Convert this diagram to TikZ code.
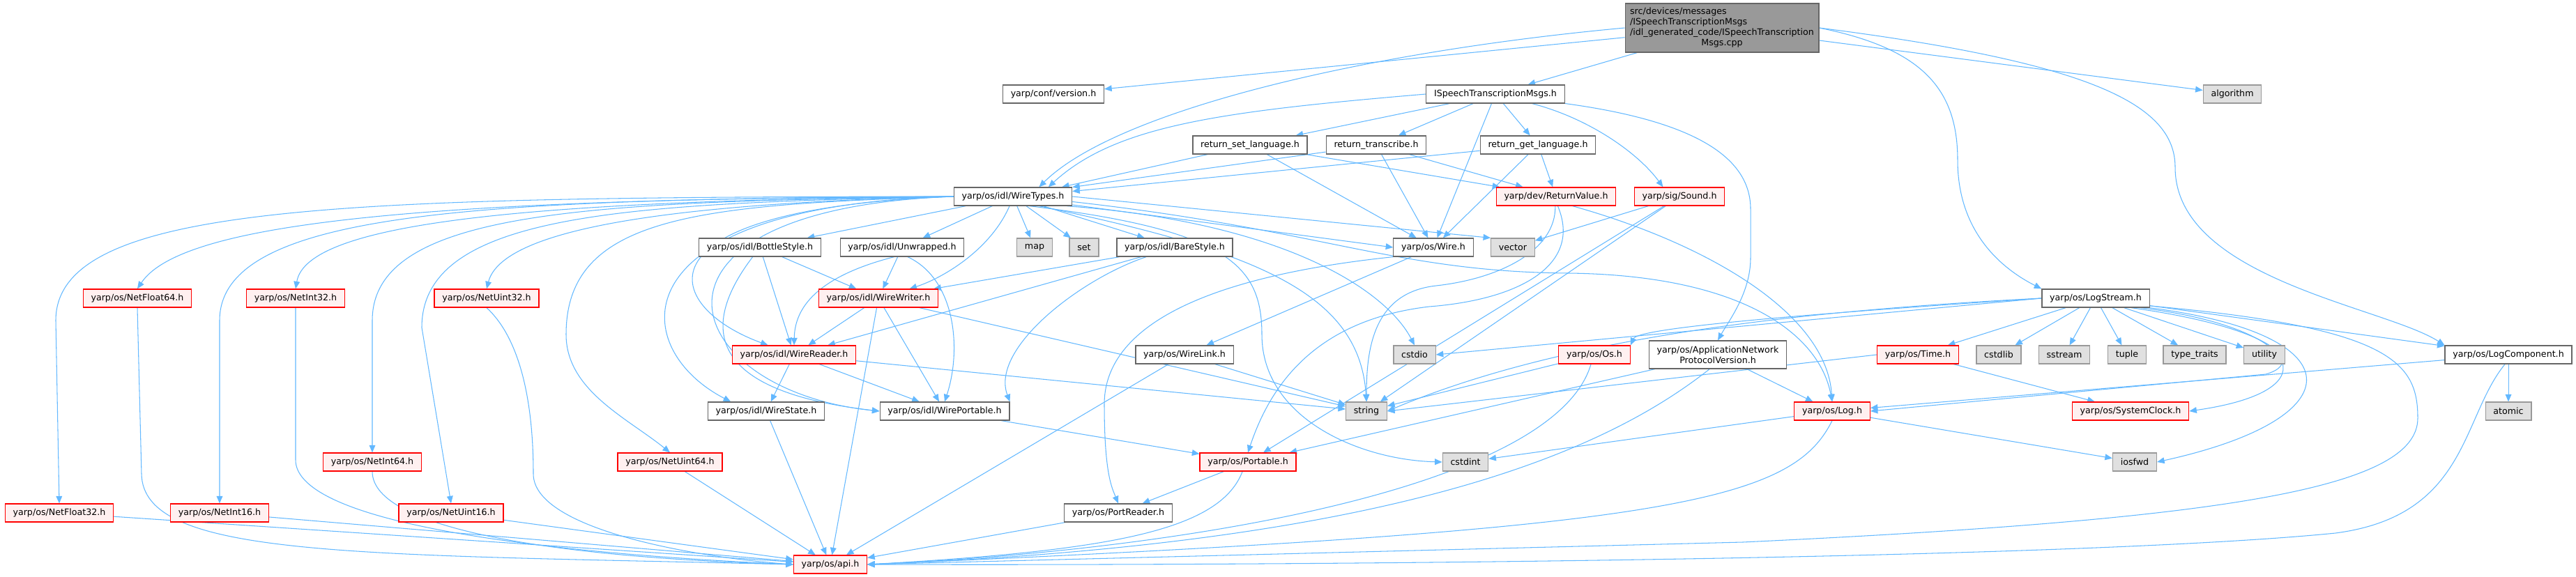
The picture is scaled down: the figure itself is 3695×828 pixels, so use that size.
\documentclass[tikz,border=0pt]{standalone}
\usepackage{fontspec}
\setmainfont{DejaVu Sans}
\usetikzlibrary{arrows.meta}
\pgfdeclarelayer{background}
\pgfsetlayers{background,main}
\definecolor{depblue}{HTML}{63B8FF}
\definecolor{boxgray}{HTML}{666666}
\definecolor{sysdraw}{HTML}{999999}
\definecolor{sysfill}{HTML}{E0E0E0}
\definecolor{redfill}{HTML}{FFF0F0}
\definecolor{mainfill}{HTML}{999999}

\begin{document}
\begin{tikzpicture}[x=0.02cm,y=-0.02cm,
  hdr/.style={draw=boxgray,fill=white,line width=0.7pt,inner xsep=6.4pt,inner ysep=0pt,
    minimum height=14.8pt,font=\fontsize{7.2}{8.4}\selectfont},
  redhdr/.style={hdr,draw=red,fill=redfill},
  syshdr/.style={hdr,draw=sysdraw,fill=sysfill},
  mainhdr/.style={hdr,fill=mainfill,minimum height=39.8pt,inner xsep=4pt},
  dep/.style={draw=depblue,line width=0.6pt,-{Triangle[length=6pt,width=5pt]}}]
\useasboundingbox (0,0) rectangle (3695,828);

% top rows
\node[mainhdr] (main) at (2470,40) {\begin{tabular}{@{}l@{}}src/devices/messages\\/ISpeechTranscriptionMsgs\\/idl\_generated\_code/ISpeechTranscription\\\multicolumn{1}{@{}c@{}}{Msgs.cpp}\end{tabular}};
\node[hdr] (version) at (1511,135) {yarp/conf/version.h};
\node[hdr] (ispeech) at (2145,135) {ISpeechTranscriptionMsgs.h};
\node[syshdr] (algorithm) at (3202,135) {algorithm};
\node[hdr] (rsl) at (1793,208) {return\_set\_language.h};
\node[hdr] (rtr) at (1974,208) {return\_transcribe.h};
\node[hdr] (rgl) at (2206,208) {return\_get\_language.h};
\node[hdr] (wiretypes) at (1453,282) {yarp/os/idl/WireTypes.h};
\node[redhdr] (retval) at (2232,282) {yarp/dev/ReturnValue.h};
\node[redhdr] (sound) at (2409,282) {yarp/sig/Sound.h};
\node[hdr] (bottle) at (1090,355) {yarp/os/idl/BottleStyle.h};
\node[hdr] (unwrapped) at (1294,355) {yarp/os/idl/Unwrapped.h};
\node[syshdr] (map) at (1484,355) {map};
\node[syshdr] (set) at (1555,355) {set};
\node[hdr] (bare) at (1685,355) {yarp/os/idl/BareStyle.h};
\node[hdr] (wire) at (2056,355) {yarp/os/Wire.h};
\node[syshdr] (vector) at (2170,355) {vector};
\node[redhdr] (netf64) at (197,428) {yarp/os/NetFloat64.h};
\node[redhdr] (neti32) at (424,428) {yarp/os/NetInt32.h};
\node[redhdr] (netu32) at (698,428) {yarp/os/NetUint32.h};
\node[redhdr] (wwriter) at (1260,428) {yarp/os/idl/WireWriter.h};
\node[hdr] (logstream) at (3006,428) {yarp/os/LogStream.h};
\node[redhdr] (wreader) at (1139,509) {yarp/os/idl/WireReader.h};
\node[hdr] (wirelink) at (1699,509) {yarp/os/WireLink.h};
\node[syshdr] (cstdio) at (2029,509) {cstdio};
\node[redhdr] (os) at (2287,509) {yarp/os/Os.h};
\node[hdr,align=center,minimum height=22.8pt] (anpv) at (2464,509) {yarp/os/ApplicationNetwork\\ProtocolVersion.h};
\node[redhdr] (time) at (2751,509) {yarp/os/Time.h};
\node[syshdr] (cstdlib) at (2867,509) {cstdlib};
\node[syshdr] (sstream) at (2961,509) {sstream};
\node[syshdr] (tuple) at (3051,509) {tuple};
\node[syshdr] (typetraits) at (3148,509) {type\_traits};
\node[syshdr] (utility) at (3248,509) {utility};
\node[hdr] (logcomp) at (3598,509) {yarp/os/LogComponent.h};
\node[hdr] (wstate) at (1099,590) {yarp/os/idl/WireState.h};
\node[hdr] (wportable) at (1355,590) {yarp/os/idl/WirePortable.h};
\node[syshdr] (string) at (1960,590) {string};
\node[redhdr] (log) at (2628,590) {yarp/os/Log.h};
\node[redhdr] (sysclock) at (3056,590) {yarp/os/SystemClock.h};
\node[syshdr] (atomic) at (3598,590) {atomic};
\node[redhdr] (neti64) at (534,663) {yarp/os/NetInt64.h};
\node[redhdr] (netu64) at (961,663) {yarp/os/NetUint64.h};
\node[redhdr] (portable) at (1790,663) {yarp/os/Portable.h};
\node[syshdr] (cstdint) at (2102,663) {cstdint};
\node[syshdr] (iosfwd) at (3062,663) {iosfwd};
\node[redhdr] (netf32) at (85,736) {yarp/os/NetFloat32.h};
\node[redhdr] (neti16) at (315,736) {yarp/os/NetInt16.h};
\node[redhdr] (netu16) at (647,736) {yarp/os/NetUint16.h};
\node[hdr] (portreader) at (1604,736) {yarp/os/PortReader.h};
\node[redhdr] (api) at (1191,810) {yarp/os/api.h};

\begin{pgfonlayer}{background}
% main file
\draw[dep] (main) -- (version);
\draw[dep] (main.west) .. controls (1950,75) and (1600,160) .. (wiretypes.20);
\draw[dep] (main) -- (ispeech);
\draw[dep] (main) -- (algorithm);
\draw[dep] (main.east) .. controls (2760,70) and (2808,130) .. (2808,230) .. controls (2808,340) and (2880,390) .. (logstream.north west);
\draw[dep] (main.east) .. controls (3000,90) and (3120,150) .. (3120,240) .. controls (3120,400) and (3420,440) .. (logcomp.north west);

% ISpeechTranscriptionMsgs.h
\draw[dep] (ispeech.west) .. controls (1750,160) and (1600,180) .. (wiretypes.15);
\draw[dep] (ispeech) -- (rsl);
\draw[dep] (ispeech) -- (rtr);
\draw[dep] (ispeech) -- (rgl);
\draw[dep] (ispeech) -- (wire);
\draw[dep] (ispeech) .. controls (2280,170) and (2350,220) .. (sound.150);
\draw[dep] (ispeech) .. controls (2440,175) and (2511,230) .. (2511,300) -- (2511,370) .. controls (2511,420) and (2480,460) .. (anpv.north);

% return_*.h
\draw[dep] (rsl) -- (wiretypes.11);
\draw[dep] (rsl) -- (wire);
\draw[dep] (rsl) -- (retval);
\draw[dep] (rtr) -- (wiretypes.9);
\draw[dep] (rtr) -- (wire);
\draw[dep] (rtr) -- (retval);
\draw[dep] (rgl) -- (wiretypes.5);
\draw[dep] (rgl) -- (wire);
\draw[dep] (rgl) -- (retval);

% WireTypes.h
\draw[dep] (wiretypes) -- (bottle);
\draw[dep] (wiretypes) -- (unwrapped);
\draw[dep] (wiretypes) -- (map);
\draw[dep] (wiretypes) -- (set);
\draw[dep] (wiretypes) -- (bare);
\draw[dep] (wiretypes.-8) -- (wire.west);
\draw[dep] (wiretypes.east) -- (vector.north west);
\draw[dep] (wiretypes.-110) .. controls (1420,360) and (1350,400) .. (wwriter.17);
\draw[dep] (wiretypes.west) .. controls (900,300) and (950,440) .. (wreader.160);
\draw[dep] (wiretypes.west) .. controls (880,295) and (900,500) .. (wstate.165);
\draw[dep] (wiretypes.west) .. controls (880,300) and (970,560) .. (wportable.west);
\draw[dep] (wiretypes.west) .. controls (500,283) and (80,290) .. (80,460) -- (netf32.north);
\draw[dep] (wiretypes.west) .. controls (600,285) and (260,320) .. (netf64.north);
\draw[dep] (wiretypes.west) .. controls (700,286) and (315,300) .. (315,460) -- (neti16.north);
\draw[dep] (wiretypes.west) .. controls (750,288) and (440,320) .. (neti32.north);
\draw[dep] (wiretypes.west) .. controls (850,290) and (534,300) .. (534,460) -- (neti64.north);
\draw[dep] (wiretypes.west) .. controls (900,292) and (605,305) .. (605,470) -- (netu16.north);
\draw[dep] (wiretypes.west) .. controls (950,292) and (720,330) .. (netu32.north);
\draw[dep] (wiretypes.west) .. controls (1000,294) and (812,310) .. (812,480) .. controls (812,560) and (900,600) .. (netu64.north);
\draw[dep] (wiretypes.-20) .. controls (1800,360) and (1950,420) .. (string.north);
\draw[dep] (wiretypes.-10) .. controls (1850,320) and (1990,420) .. (cstdio.north);
\draw[dep] (wiretypes.-30) .. controls (1760,330) and (1810,380) .. (1810,480) .. controls (1810,600) and (1950,660) .. (cstdint.west);
\draw[dep] (wiretypes.-5) .. controls (1900,330) and (2000,390) .. (2250,392) .. controls (2500,395) and (2610,480) .. (log.north);

% Net*.h
\draw[dep] (netf32) -- (api);
\draw[dep] (netf64.south) -- (203,680) .. controls (205,800) and (500,795) .. (api.west);
\draw[dep] (neti16) -- (api);
\draw[dep] (neti32.south) -- (424,660) .. controls (424,740) and (700,790) .. (api.west);
\draw[dep] (neti64.south) .. controls (534,760) and (800,800) .. (api.west);
\draw[dep] (netu16) -- (api);
\draw[dep] (netu32.south) .. controls (740,480) and (765,560) .. (765,680) .. controls (765,760) and (1000,800) .. (api.west);
\draw[dep] (netu64) -- (api);

% idl
\draw[dep] (bottle) -- (wwriter);
\draw[dep] (bottle) -- (wreader);
\draw[dep] (bottle) .. controls (1010,460) and (1000,560) .. (wportable.west);
\draw[dep] (unwrapped) -- (wwriter);
\draw[dep] (unwrapped.-130) .. controls (1160,400) and (1140,450) .. (wreader.north);
\draw[dep] (unwrapped.-60) .. controls (1370,400) and (1380,500) .. (wportable.north);
\draw[dep] (bare) -- (wwriter);
\draw[dep] (bare) -- (wreader);
\draw[dep] (bare) .. controls (1550,400) and (1420,500) .. (wportable.north east);
\draw[dep] (wwriter) -- (wreader);
\draw[dep] (wwriter) -- (wportable);
\draw[dep] (wwriter) -- (string);
\draw[dep] (wwriter) -- (api);
\draw[dep] (wreader) -- (wstate);
\draw[dep] (wreader) -- (wportable);
\draw[dep] (wreader) -- (string);
\draw[dep] (wstate) -- (api);
\draw[dep] (wportable) -- (portable);
\draw[dep] (portable) -- (portreader);
\draw[dep] (portable.-120) .. controls (1750,760) and (1600,790) .. (api.east);
\draw[dep] (portreader) -- (api);

% Wire.h and friends
\draw[dep] (wire) -- (wirelink);
\draw[dep] (wire.south west) .. controls (1700,400) and (1584,480) .. (1584,580) .. controls (1584,680) and (1595,700) .. (portreader.north);
\draw[dep] (wirelink) -- (api);
\draw[dep] (wirelink) -- (string);
\draw[dep] (retval.-95) .. controls (2232,360) and (2150,400) .. (2060,410) .. controls (1970,420) and (1960,500) .. (string.north);
\draw[dep] (retval.-80) .. controls (2270,380) and (2180,430) .. (2050,440) .. controls (1880,460) and (1820,560) .. (portable.north);
\draw[dep] (retval.-30) .. controls (2450,350) and (2620,450) .. (log.north);
\draw[dep] (sound) -- (vector);
\draw[dep] (sound) -- (string);
\draw[dep] (sound) -- (portable);
\draw[dep] (os) -- (string);
\draw[dep] (os.-110) .. controls (2230,700) and (1700,790) .. (api.east);
\draw[dep] (anpv) -- (portable);
\draw[dep] (anpv.-120) .. controls (2300,650) and (2000,780) .. (api.east);
\draw[dep] (anpv) -- (log);

% LogStream.h
\draw[dep] (logstream.west) .. controls (2600,450) and (2350,470) .. (os.north east);
\draw[dep] (logstream.west) -- (cstdio.east);
\draw[dep] (logstream.west) .. controls (2600,445) and (2250,480) .. (string.east);
\draw[dep] (logstream) -- (time);
\draw[dep] (logstream) -- (cstdlib);
\draw[dep] (logstream) -- (sstream);
\draw[dep] (logstream) -- (tuple);
\draw[dep] (logstream) -- (typetraits);
\draw[dep] (logstream) -- (utility);
\draw[dep] (logstream) -- (logcomp);
\draw[dep] (logstream.-15) .. controls (3260,470) and (3310,520) .. (3250,537) -- (log.east);
\draw[dep] (logstream.-12) .. controls (3300,470) and (3350,560) .. (sysclock.east);
\draw[dep] (logstream.-10) .. controls (3380,480) and (3380,600) .. (iosfwd.east);
\draw[dep] (logstream.-8) .. controls (3430,470) and (3468,520) .. (3468,600) .. controls (3468,700) and (3200,745) .. (2500,778) -- (api.east);
\draw[dep] (time.west) -- (string.east);
\draw[dep] (time) -- (sysclock);
\draw[dep] (logcomp) -- (log);
\draw[dep] (logcomp) -- (atomic);
\draw[dep] (logcomp.-110) .. controls (3530,600) and (3540,740) .. (3350,765) .. controls (3000,800) and (2000,812) .. (api.east);
\draw[dep] (log) -- (cstdint);
\draw[dep] (log) -- (iosfwd);
\draw[dep] (log.south) .. controls (2570,720) and (2400,760) .. (api.east);
\end{pgfonlayer}
\end{tikzpicture}
\end{document}
